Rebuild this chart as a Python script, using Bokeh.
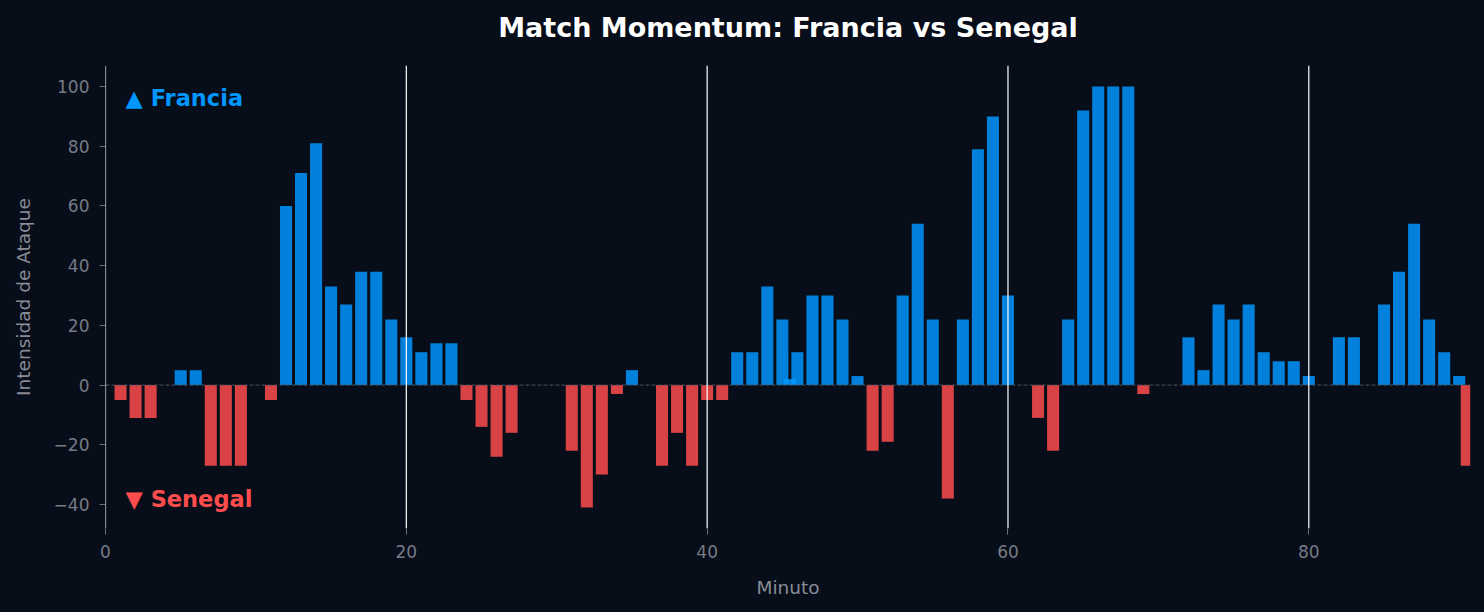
from bokeh.plotting import figure
from bokeh.models import ColumnDataSource, Span, Label, FixedTicker, Range1d, Title
from bokeh.embed import file_html
from bokeh.resources import INLINE

# momentum per minute (positive = Francia, negative = Senegal)
minutes = list(range(1, 91)) + [45.5, 90.5]
momentum = [
    -5, -11, -11, 0, 5, 5, -27, -27, -27, 0,
    -5, 60, 71, 81, 33, 27, 38, 38, 22, 16,
    11, 14, 14, -5, -14, -24, -16, 0, 0, 0,
    -22, -41, -30, -3, 5, 0, -27, -16, -27, -5,
    -5, 11, 11, 33, 22, 11, 30, 30, 22, 3,
    -22, -19, 30, 54, 22, -38, 22, 79, 90, 30,
    0, -11, -22, 22, 92, 100, 100, 100, -3, 0,
    0, 16, 5, 27, 22, 27, 11, 8, 8, 3,
    0, 16, 16, 0, 27, 38, 54, 22, 11, 3,
    2, -27,
]
x_ticks = [0, 20, 40, 60, 80]
y_ticks = [-40, -20, 0, 20, 40, 60, 80, 100]

BG = "#070d19"
BLUE = "#0096ff"
RED = "#ff4d4d"
FONT = "DejaVu Sans"

colors = [BLUE if v >= 0 else RED for v in momentum]
source = ColumnDataSource(dict(minute=minutes, value=momentum, color=colors))

p = figure(width=1480, height=608, output_backend="svg", toolbar_location=None,
           x_range=Range1d(0, 90.75), y_range=Range1d(-48.05, 107.05),
           min_border_left=105, min_border_right=10, min_border_top=65, min_border_bottom=80)

p.background_fill_color = BG
p.border_fill_color = BG
p.outline_line_color = None

p.vbar(x='minute', top='value', bottom=0, width=0.8, source=source,
       fill_color='color', line_color=None, fill_alpha=0.85)

p.add_layout(Span(location=0, dimension='width', line_color="#4d525d",
                  line_width=1, line_dash="4 2"))

# white markers at each x tick
for t in x_ticks:
    p.add_layout(Span(location=t, dimension='height', line_color="white", line_width=1.2))

p.xgrid.visible = False
p.ygrid.visible = False

p.title.text = "Match Momentum: Francia vs Senegal"
p.title.text_color = "white"
p.title.text_font = FONT
p.title.text_font_size = "27px"
p.title.text_font_style = "bold"
p.title.align = "center"
p.title.standoff = 10

# blank spacer between the title and the plot area, pushes the title up
p.add_layout(Title(text=" ", text_font_size="10px", standoff=5), "above")

p.xaxis.ticker = FixedTicker(ticks=x_ticks)
p.yaxis.ticker = FixedTicker(ticks=y_ticks)
p.xaxis.axis_label = "Minuto"
p.yaxis.axis_label = "Intensidad de Ataque"

for ax in (p.xaxis, p.yaxis):
    ax.axis_line_color = None
    ax.major_tick_line_color = "#6b6f78"
    ax.major_tick_out = 6
    ax.major_tick_in = 0
    ax.minor_tick_line_color = None
    ax.major_label_text_font = FONT
    ax.major_label_text_font_size = "17px"
    ax.major_label_text_color = "#767b86"
    ax.major_label_standoff = 10
    ax.axis_label_text_font = FONT
    ax.axis_label_text_font_size = "18.5px"
    ax.axis_label_text_font_style = "normal"
    ax.axis_label_text_color = "#888c96"

p.xaxis.axis_label_standoff = 16
p.yaxis.axis_label_standoff = 17

p.add_layout(Label(x=1.33, y=96.3, text="▲ Francia", text_color=BLUE,
                   text_font=FONT, text_font_size="22.5px", text_font_style="bold",
                   text_baseline="middle", text_align="left"))
p.add_layout(Label(x=1.33, y=-38.3, text="▼ Senegal", text_color=RED,
                   text_font=FONT, text_font_size="22.5px", text_font_style="bold",
                   text_baseline="middle", text_align="left"))

html = file_html(p, INLINE).replace("<body>", '<body style="background-color:%s;">' % BG)
open("out.html", "w").write(html)
